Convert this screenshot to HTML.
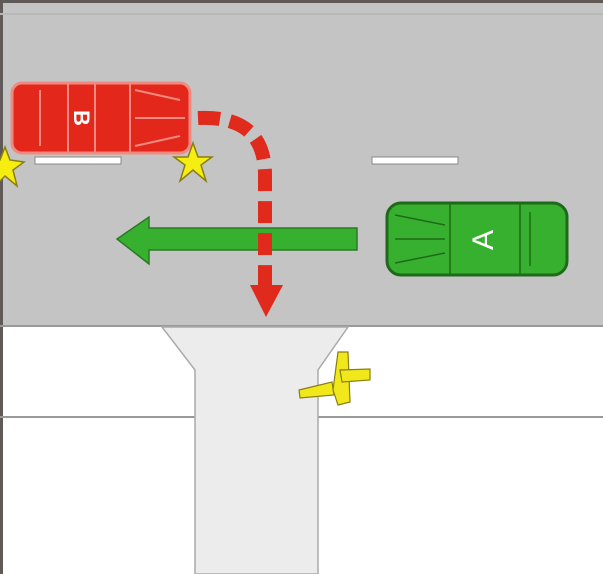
<!DOCTYPE html>
<html><head><style>body{margin:0}svg{display:block}</style></head><body>
<svg width="603" height="574" viewBox="0 0 603 574" xmlns="http://www.w3.org/2000/svg">
<rect width="603" height="574" fill="#fff"/>
<rect x="0" y="0" width="603" height="327" fill="#c4c4c4"/>
<rect x="0" y="0" width="603" height="3" fill="#5f5a58"/>
<rect x="0" y="0" width="3" height="574" fill="#5f5a58"/>
<line x1="0" y1="14" x2="603" y2="14" stroke="#b8b8b8" stroke-width="2"/>
<line x1="0" y1="326" x2="603" y2="326" stroke="#999" stroke-width="2"/>
<line x1="0" y1="417" x2="603" y2="417" stroke="#999" stroke-width="2"/>
<path d="M162 327 L348 327 L318 370 L318 574 L195 574 L195 370 Z" fill="#ececec" stroke="#aaa" stroke-width="1.5"/>
<rect x="35" y="157" width="86" height="7" fill="#fff" stroke="#888" stroke-width="1"/>
<rect x="372" y="157" width="86" height="7" fill="#fff" stroke="#888" stroke-width="1"/>
<!-- green arrow -->
<path d="M357 228 L149 228 L149 217 L117 239 L149 264 L149 250 L357 250 Z" fill="#36b02e" stroke="#2a7a24" stroke-width="1.5"/>
<!-- red dashed -->
<path d="M198 118 Q265 115 265 175 L265 288" fill="none" stroke="#e02a1c" stroke-width="14" stroke-dasharray="22 10"/>
<path d="M250 285 L283 285 L266 317 Z" fill="#e02a1c"/>
<!-- car B -->
<rect x="12" y="83" width="178" height="70" rx="10" fill="#e3281b" stroke="#f08a80" stroke-width="3"/>
<g stroke="#f08a80" stroke-width="2" fill="none">
<line x1="130" y1="83" x2="130" y2="153"/><line x1="68" y1="83" x2="68" y2="153"/><line x1="95" y1="83" x2="95" y2="153"/>
<line x1="40" y1="90" x2="40" y2="146"/><path d="M135 90 L180 100 M135 146 L180 136 M135 118 L185 118"/>
</g>
<text x="80" y="118" font-family="Liberation Sans,sans-serif" font-weight="bold" font-size="22" fill="#fff" text-anchor="middle" dominant-baseline="middle" transform="rotate(90 80 118)">B</text>
<!-- car A -->
<rect x="387" y="203" width="180" height="72" rx="14" fill="#38b02f" stroke="#1f6a1a" stroke-width="3"/>
<g stroke="#1f6a1a" stroke-width="1.5" fill="none">
<line x1="450" y1="203" x2="450" y2="275"/><line x1="520" y1="203" x2="520" y2="275"/>
<path d="M395 215 L445 225 M395 263 L445 253 M395 239 L445 239 M530 212 L530 266"/>
</g>
<text x="485" y="240" font-family="Liberation Sans,sans-serif" font-size="30" fill="#fff" text-anchor="middle" dominant-baseline="middle" transform="rotate(-90 485 240)">A</text>
<!-- stars -->
<polygon points="193,143 198,157 212,157 201,165 206,181 193,170 180,181 185,165 174,157 188,157" fill="#f5ee10" stroke="#8a7e10" stroke-width="1.5"/>
<polygon points="5,147 10,160 24,162 13,170 17,186 5,176 -5,186 -1,170 -10,162 0,160" fill="#f5ee10" stroke="#8a7e10" stroke-width="1.5"/>
<!-- pedestrian -->
<g fill="#f0e81a" stroke="#8a7e10" stroke-width="1.2">
<path d="M299 390 L332 382 L334 395 L300 398 Z"/>
<path d="M338 352 L348 352 L350 402 L338 405 L333 390 Z"/>
<path d="M340 370 L370 369 L370 380 L342 382 Z"/>
</g>
</svg>
</body></html>
